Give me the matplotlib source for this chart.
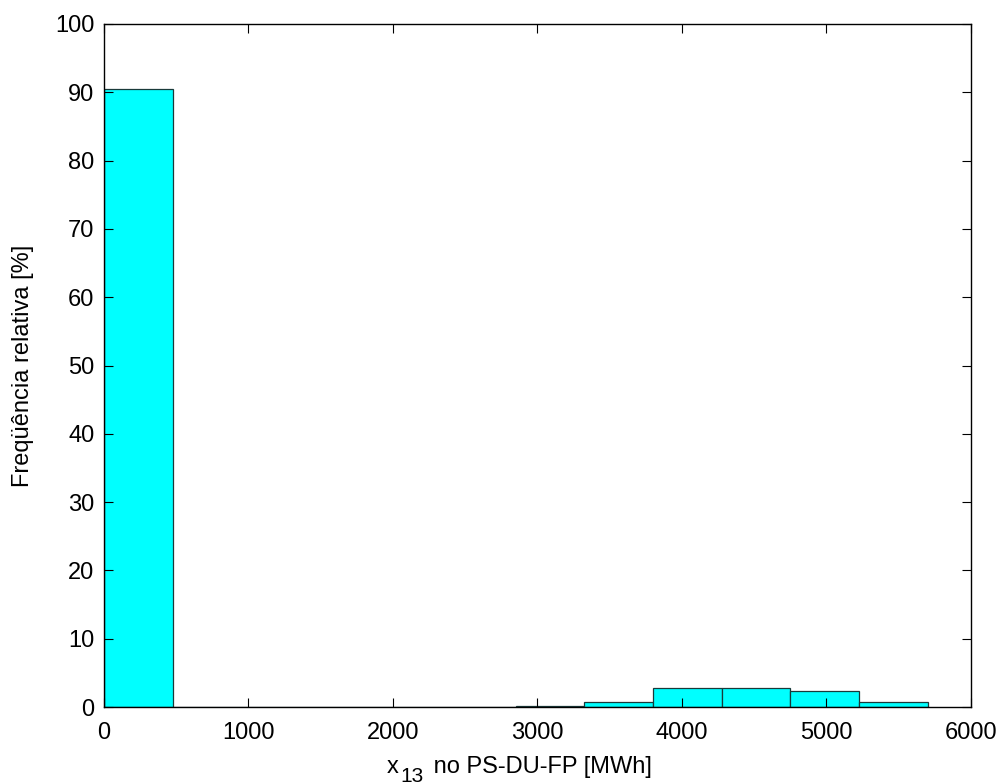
import numpy as np
import matplotlib
matplotlib.use("Agg")
import matplotlib.pyplot as plt

plt.rcParams['font.family'] = ['Liberation Sans', 'DejaVu Sans']

# histogram bins (MWh) and relative frequency per bin (%)
bin_edges = np.linspace(0, 5700, 13)
freq_pct = [90.5, 0.0, 0.0, 0.0, 0.0, 0.0, 0.2, 0.7, 2.8, 2.8, 2.4, 0.7]

x_ticks = [0, 1000, 2000, 3000, 4000, 5000, 6000]
y_ticks = [0, 10, 20, 30, 40, 50, 60, 70, 80, 90, 100]

W, H = 1002, 784
fig = plt.figure(figsize=(W / 100, H / 100), dpi=100)
ax = fig.add_axes([0.1038, 0.0982, 0.8652, 0.8712])

widths = np.diff(bin_edges)
ax.bar(bin_edges[:-1], freq_pct, width=widths, align='edge',
       color='#00ffff', edgecolor='#1a3a3a', linewidth=0.9)

ax.set_xlim(0, 6000)
ax.set_ylim(0, 100)
ax.set_xticks(x_ticks)
ax.set_yticks(y_ticks)
ax.tick_params(direction='in', length=6.5, width=0.8, labelsize=17,
               top=True, right=True)
ax.tick_params(axis='x', pad=11)
ax.tick_params(axis='y', pad=7)
for s in ax.spines.values():
    s.set_linewidth(1.0)

ax.set_ylabel('Freqüência relativa [%]', fontsize=17, labelpad=15)

# x label with MATLAB-like large, low subscript
fig.canvas.draw()
r = fig.canvas.get_renderer()
base_y = (H - 773) / H
x0 = 387 / W
t1 = fig.text(x0, base_y, 'x', fontsize=17, va='baseline', ha='left')
w1 = t1.get_window_extent(r).width / W
t2 = fig.text(x0 + w1 + 1 / W, base_y - 9 / H, '13', fontsize=15,
              va='baseline', ha='left')
w2 = t2.get_window_extent(r).width / W
fig.text(x0 + w1 + w2 + 5 / W, base_y, ' no PS-DU-FP [MWh]', fontsize=17,
         va='baseline', ha='left')

fig.savefig('out.png', dpi=100)
